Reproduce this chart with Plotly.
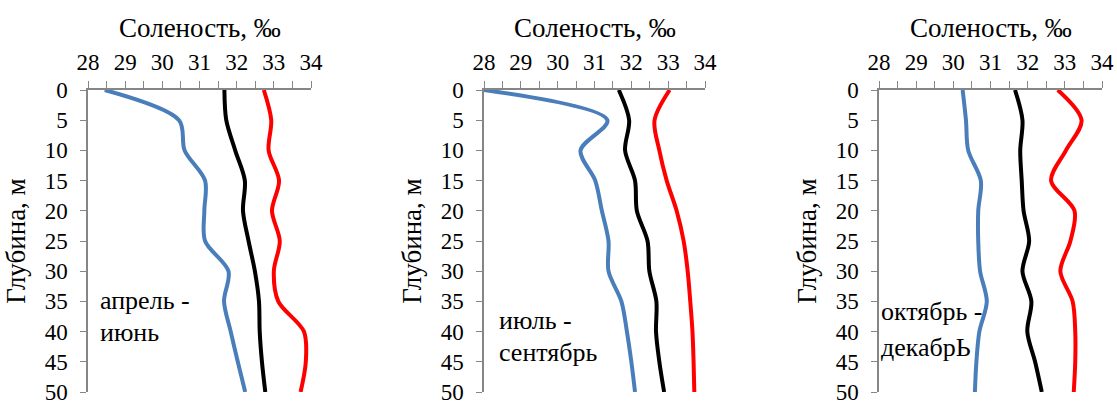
import plotly.graph_objects as go

# Depth levels, m
depth = [0, 5, 10, 15, 20, 25, 30, 35, 40, 45, 50]

# Salinity profiles (‰) for three seasons
apr_blue = [28.45, 30.45, 30.6, 31.15, 31.13, 31.15, 31.78, 31.66, 31.84, 32.03, 32.23]
apr_black = [31.67, 31.72, 31.96, 32.22, 32.17, 32.32, 32.49, 32.6, 32.62, 32.68, 32.77]
apr_red = [32.73, 32.93, 32.86, 33.14, 32.95, 33.16, 33.0, 33.12, 33.81, 33.86, 33.72]

jul_blue = [28.0, 31.35, 30.62, 31.02, 31.2, 31.38, 31.38, 31.73, 31.88, 32.0, 32.1]
jul_black = [31.66, 31.94, 31.83, 32.1, 32.15, 32.44, 32.49, 32.68, 32.67, 32.76, 32.89]
jul_red = [33.04, 32.63, 32.76, 32.96, 33.23, 33.42, 33.53, 33.6, 33.66, 33.69, 33.71]

oct_blue = [30.25, 30.34, 30.4, 30.74, 30.67, 30.67, 30.72, 30.9, 30.7, 30.62, 30.58]
oct_black = [31.66, 31.86, 31.8, 31.84, 31.89, 32.04, 31.86, 32.1, 31.99, 32.2, 32.38]
oct_red = [32.81, 33.45, 33.03, 32.63, 33.26, 33.15, 32.88, 33.21, 33.28, 33.28, 33.24]

season_labels = [("апрель -", "июнь"), ("июль -", "сентябрь"), ("октябрь -", "декабрЬ")]
label_pos = [
    (28.27, 34.8, 40.2),
    (28.35, 38.1, 43.4),
    (28.0, 36.6, 42.7),
]

x_title = "Соленость, ‰"
y_title = "Глубина, м"
x_ticks = [28, 29, 30, 31, 32, 33, 34]
y_ticks = [0, 5, 10, 15, 20, 25, 30, 35, 40, 45, 50]

W, H = 1117, 408
panels_px = [(88, 311), (484, 705), (879, 1102)]
top_px, bottom_px = 90, 392
x_title_px = 28.5  # vertical centre of the salinity caption

BLUE = "#4A7EBB"
BLACK = "#000000"
RED = "#FF0000"
AXIS = "#868686"
FONT = "Liberation Serif"

profiles = [
    (apr_blue, apr_black, apr_red),
    (jul_blue, jul_black, jul_red),
    (oct_blue, oct_black, oct_red),
]

fig = go.Figure()
layout = dict(
    width=W,
    height=H,
    margin=dict(l=0, r=0, t=0, b=0),
    paper_bgcolor="white",
    plot_bgcolor="white",
    showlegend=False,
    font=dict(family=FONT, color="black", size=23),
)
annotations = []

for i, (series, (x0, x1)) in enumerate(zip(profiles, panels_px)):
    n = "" if i == 0 else str(i + 1)
    for vals, col in zip(series, (BLUE, BLACK, RED)):
        fig.add_trace(go.Scatter(
            x=vals, y=depth, mode="lines",
            line=dict(color=col, width=4, shape="spline", smoothing=0.9),
            xaxis="x" + n, yaxis="y" + n, hoverinfo="skip",
        ))
    layout["xaxis" + n] = dict(
        domain=[x0 / W, x1 / W],
        anchor="y" + n,
        side="top",
        automargin=False,
        range=[28, 34],
        tickvals=x_ticks,
        ticks="outside", ticklen=7, tickcolor=AXIS, tickwidth=1,
        ticklabelstandoff=2,
        minor=dict(dtick=0.5, tick0=28, ticks="outside", ticklen=7, tickcolor=AXIS, tickwidth=1),
        showline=True, linecolor=AXIS, linewidth=1.5,
        showgrid=False, zeroline=False,
        tickfont=dict(size=23, family=FONT, color="black"),
    )
    layout["yaxis" + n] = dict(
        domain=[1 - bottom_px / H, 1 - top_px / H],
        anchor="x" + n,
        automargin=False,
        range=[50, 0],
        tickvals=y_ticks,
        ticks="outside", ticklen=6, tickcolor=AXIS, tickwidth=1,
        ticklabelstandoff=8,
        showline=True, linecolor=AXIS, linewidth=1.5,
        showgrid=False, zeroline=False,
        tickfont=dict(size=23, family=FONT, color="black"),
        title=dict(text=y_title, font=dict(size=27, family=FONT, color="black"), standoff=11),
    )
    # salinity caption above each panel
    annotations.append(dict(
        x=0.5, y=1 - x_title_px / H, xref=f"x{n} domain", yref="paper",
        text=x_title, showarrow=False, xanchor="center", yanchor="middle",
        font=dict(size=27, family=FONT, color="black"),
    ))
    lx, ly1, ly2 = label_pos[i]
    for txt, ly in zip(season_labels[i], (ly1, ly2)):
        annotations.append(dict(
            x=lx, y=ly, xref="x" + n, yref="y" + n,
            text=txt, showarrow=False, xanchor="left", yanchor="middle",
            font=dict(size=26, family=FONT, color="black"),
        ))

layout["annotations"] = annotations
fig.update_layout(**layout)
fig.write_html("out.html")
